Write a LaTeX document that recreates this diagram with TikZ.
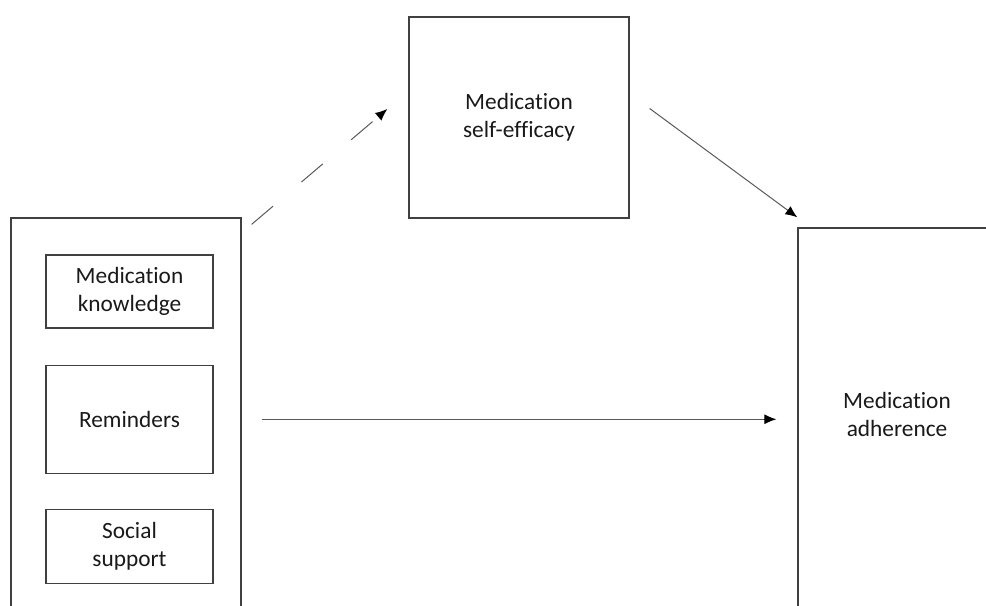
\documentclass[tikz,border=0pt]{standalone}
\usepackage{fontspec}
\setmainfont{Carlito}[Ligatures=NoCommon]
\usetikzlibrary{arrows.meta,positioning,calc}

\begin{document}
\begin{tikzpicture}[x=0.75pt, y=-0.75pt, >=Latex]
\tikzstyle{box}=[draw=black!75, line width=0.95pt, align=center, inner sep=0pt, text=black!90, font=\fontsize{17.5}{21}\selectfont]
\tikzstyle{arr}=[-{Latex[length=9pt, width=7.5pt, color=black]}, line width=0.75pt, black!65]

\useasboundingbox (0,0) rectangle (986,606);
\clip (0,0) rectangle (986,606);

% predictors
\node[box, minimum width=172.5pt, minimum height=325.5pt] (grp) at (126,435) {};
\node[box, minimum width=125.25pt, minimum height=54.75pt] (know) at (129.5,291.5) {Medication\\knowledge};
\node[box, minimum width=125.25pt, minimum height=81pt, below=27pt of know] (rem) {Reminders};
\node[box, minimum width=125.25pt, minimum height=55.5pt, below=26.25pt of rem] (soc) {Social\\support};

% mediator and outcome
\node[box, minimum width=165pt, minimum height=150.75pt] (eff) at (519,117.5) {Medication\\self-efficacy};
\node[box, minimum width=151.5pt, minimum height=324pt] (adh) at (899,444) {};
\node[font=\fontsize{17.5}{21}\selectfont, text=black!90, align=center] (adhtxt) at (897,414) {Medication\\adherence};

\draw[arr, dash pattern=on 21pt off 28pt] ($(grp.north east)+(10,7)$) -- ($(eff.west)+(-21,-8.5)$);
\draw[arr] ($(eff.east)+(20,-9)$) -- ($(adh.north west)+(0,-10)$);
\draw[arr, shorten <=15pt, shorten >=15.75pt] (grp.east |- rem.center) -- (adh.west |- rem.center);

\end{tikzpicture}
\end{document}
